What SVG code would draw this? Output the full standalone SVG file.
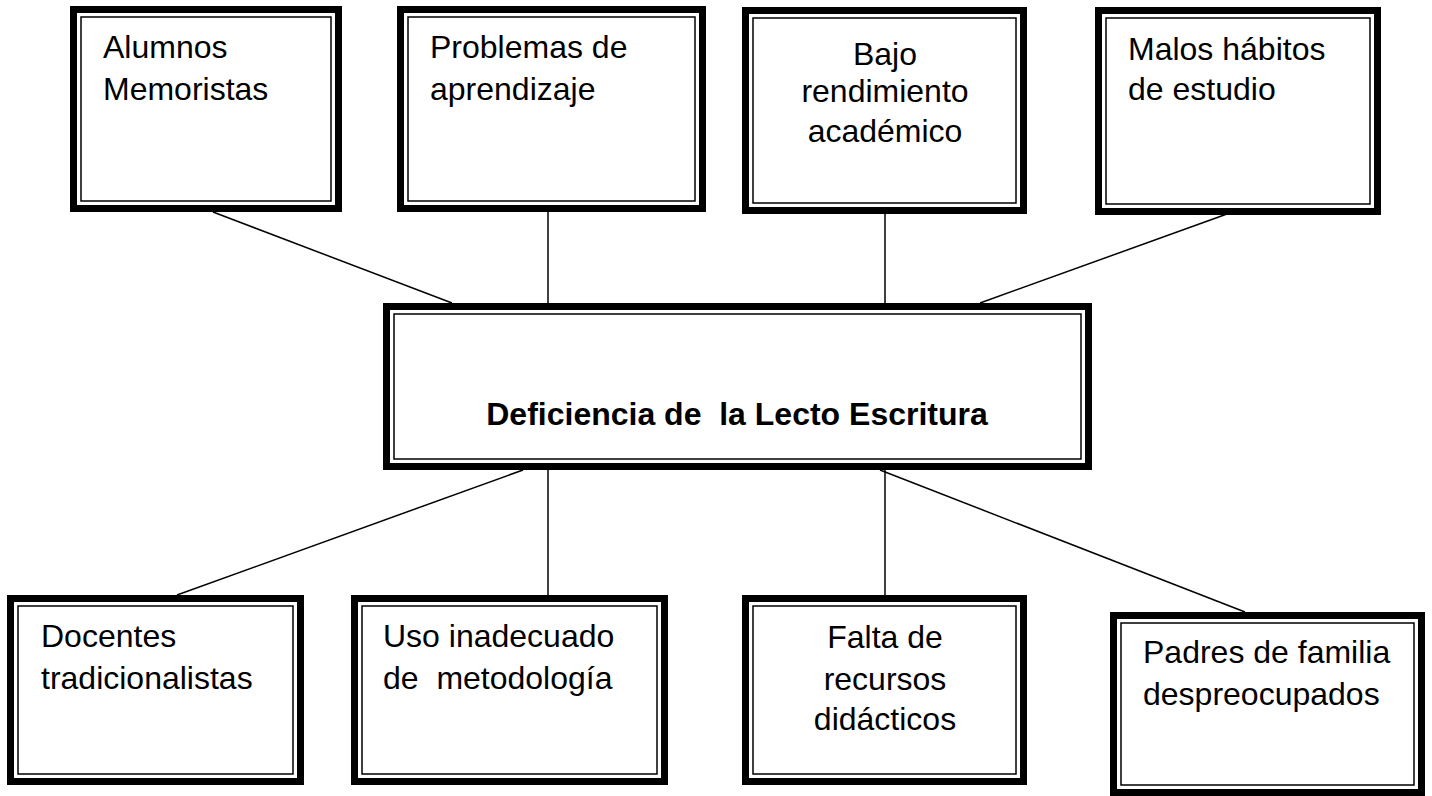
<svg xmlns="http://www.w3.org/2000/svg" width="1432" height="796" viewBox="0 0 1432 796">
<style>
.o{fill:#fff;stroke:#000;stroke-width:7}
.i{fill:none;stroke:#000;stroke-width:1.5}
.t{font-family:"Liberation Sans",Arial,sans-serif;font-size:32px;fill:#000}
.c{text-anchor:middle}
.b{font-weight:bold}
#connectors line{stroke:#000;stroke-width:1.5}
</style>
<rect width="1432" height="796" fill="#fff"/>
<g id="connectors">
<line x1="213" y1="212" x2="452" y2="303"/>
<line x1="548" y1="212" x2="548" y2="303"/>
<line x1="885" y1="214" x2="885" y2="303"/>
<line x1="1227" y1="214" x2="980" y2="303"/>
<line x1="523" y1="470" x2="177" y2="595"/>
<line x1="548" y1="470" x2="548" y2="595"/>
<line x1="885" y1="470" x2="885" y2="595"/>
<line x1="880" y1="470" x2="1245" y2="612"/>
</g>
<g id="n1">
<rect class="o" x="73.5" y="9.5" width="265" height="199"/>
<rect class="i" x="81" y="17" width="250" height="184"/>
<text class="t" x="103" y="58">Alumnos</text>
<text class="t" x="103" y="100">Memoristas</text>
</g>
<g id="n2">
<rect class="o" x="400.5" y="9.5" width="302" height="199"/>
<rect class="i" x="408" y="17" width="287" height="184"/>
<text class="t" x="430" y="58">Problemas de</text>
<text class="t" x="430" y="100">aprendizaje</text>
</g>
<g id="n3">
<rect class="o" x="745.5" y="10.5" width="278" height="200"/>
<rect class="i" x="753" y="18" width="263" height="185"/>
<text class="t c" x="885" y="65">Bajo</text>
<text class="t c" x="885" y="102">rendimiento</text>
<text class="t c" x="885" y="142">académico</text>
</g>
<g id="n4">
<rect class="o" x="1098.5" y="10.5" width="279" height="201"/>
<rect class="i" x="1106" y="18" width="264" height="186"/>
<text class="t" x="1128" y="60">Malos hábitos</text>
<text class="t" x="1128" y="100">de estudio</text>
</g>
<g id="center">
<rect class="o" x="386.5" y="306.5" width="702" height="160"/>
<rect class="i" x="394" y="314" width="687" height="145"/>
<text class="t c b" x="737" y="425" xml:space="preserve">Deficiencia de  la Lecto Escritura</text>
</g>
<g id="b1">
<rect class="o" x="10.5" y="598.5" width="290" height="183"/>
<rect class="i" x="18" y="606" width="275" height="168"/>
<text class="t" x="41" y="647">Docentes</text>
<text class="t" x="41" y="689">tradicionalistas</text>
</g>
<g id="b2">
<rect class="o" x="354.5" y="598.5" width="310" height="183"/>
<rect class="i" x="362" y="606" width="295" height="168"/>
<text class="t" x="383" y="647">Uso inadecuado</text>
<text class="t" x="383" y="689" xml:space="preserve">de  metodología</text>
</g>
<g id="b3">
<rect class="o" x="745.5" y="598.5" width="278" height="183"/>
<rect class="i" x="753" y="606" width="263" height="168"/>
<text class="t c" x="885" y="648">Falta de</text>
<text class="t c" x="885" y="690">recursos</text>
<text class="t c" x="885" y="730">didácticos</text>
</g>
<g id="b4">
<rect class="o" x="1113.5" y="615.5" width="308" height="177"/>
<rect class="i" x="1121" y="623" width="293" height="162"/>
<text class="t" x="1143" y="663">Padres de familia</text>
<text class="t" x="1143" y="705">despreocupados</text>
</g>
</svg>
